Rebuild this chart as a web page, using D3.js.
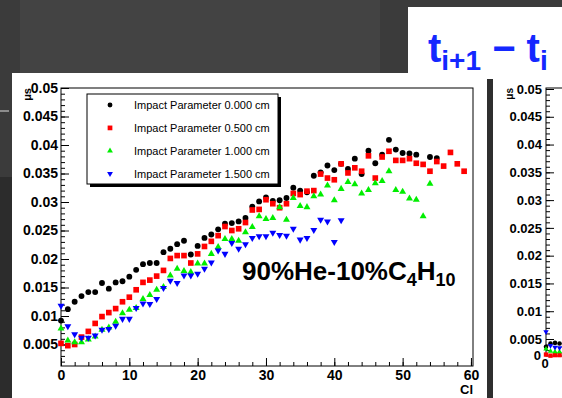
<!DOCTYPE html>
<html>
<head>
<meta charset="utf-8">
<script src="https://cdn.jsdelivr.net/npm/d3@7"></script>
<style>
  body { margin: 0; background: #3a3a3a; overflow: hidden; }
  svg { display: block; font-family: "Liberation Sans", Arial, Helvetica, sans-serif; }
</style>
</head>
<body>
<script>
// mean time difference per cluster, 90%He-10%C4H10 (index = cluster number Cl)
const ip0000 = [0.0092,0.0112,0.0125,0.0135,0.0142,0.0142,0.0158,0.0148,0.0159,0.0161,
  0.0169,0.0181,0.0191,0.0193,0.0193,0.0212,0.0218,0.0226,0.0232,0.0208,
  0.0223,0.0237,0.0243,0.0252,0.0262,0.0263,0.0266,0.0272,0.0292,0.0301,
  0.0308,0.0302,0.0303,0.0307,0.0325,0.0320,0.0317,0.0346,0.0352,0.0364,
  0.0356,0.0367,0.0358,0.0376,0.0349,0.0390,0.0368,0.0383,0.0409,0.0392,
  0.0386,0.0385,0.0383,null,0.0379,0.0377];
const ip0500 = [0.0052,0.0048,0.0050,0.0063,0.0073,0.0087,0.0099,0.0106,0.0113,0.0125,
  0.0133,0.0146,0.0159,0.0163,0.0170,0.0180,0.0201,0.0206,0.0206,0.0193,
  0.0209,0.0222,0.0231,0.0241,0.0257,0.0250,0.0253,0.0264,0.0286,0.0287,
  0.0304,0.0297,0.0290,0.0297,0.0315,0.0313,0.0319,0.0320,0.0349,0.0342,
  0.0339,0.0367,0.0351,0.0360,0.0354,0.0381,0.0342,0.0379,0.0389,0.0373,
  0.0373,0.0376,0.0368,0.0366,0.0354,0.0371,0.0363,0.0387,0.0367,0.0354];
const ip1000 = [0.0078,0.0057,0.0054,0.0054,0.0059,0.0064,0.0076,0.0080,0.0090,0.0105,
  0.0111,0.0114,0.0130,0.0137,0.0146,0.0151,0.0171,0.0183,0.0179,0.0177,
  0.0192,0.0192,0.0209,0.0221,0.0235,0.0235,0.0232,0.0247,0.0256,0.0275,
  0.0270,0.0272,0.0291,0.0269,0.0307,0.0293,0.0291,0.0310,0.0313,0.0329,
  0.0303,0.0323,0.0335,0.0331,0.0315,0.0321,0.0333,0.0337,0.0354,0.0321,
  0.0318,0.0306,0.0304,0.0275,0.0332];
const ip1500 = [0.0118,0.0082,0.0068,0.0062,0.0062,0.0066,0.0076,0.0077,0.0083,0.0095,
  0.0095,0.0114,0.0122,0.0121,0.0130,0.0149,0.0162,0.0158,0.0171,0.0171,
  0.0174,0.0183,0.0194,0.0215,0.0209,0.0228,0.0218,0.0226,0.0237,0.0240,
  0.0240,0.0246,0.0242,0.0241,0.0253,0.0234,0.0237,0.0251,0.0269,0.0266,
  0.0230,0.0268];

// the neighbouring (cut off) plot on the right
const next0000 = [0.0036,0.0042,0.0043,0.0042,0.0041];
const next0500 = [0.0022,0.0020,0.0021,0.0021,0.0022];
const next1000 = [0.0032,0.0028,0.0027,0.0027,0.0027];
const next1500 = [0.0063,0.0038,0.0035,0.0034,0.0033];

const legendLabels = ["Impact Parameter 0.000 cm","Impact Parameter 0.500 cm",
  "Impact Parameter 1.000 cm","Impact Parameter 1.500 cm"];
const yTicks = [0.005,0.01,0.015,0.02,0.025,0.03,0.035,0.04,0.045,0.05];
const yTickLabels = ["0.005","0.01","0.015","0.02","0.025","0.03","0.035","0.04","0.045","0.05"];
const xTicks = [0,10,20,30,40,50,60];
const xTickLabels = ["0","10","20","30","40","50","60"];

const series = [
  {vals: ip0000, next: next0000, color: "#000000", shape: d3.symbolCircle, size: 27, rot: 0},
  {vals: ip0500, next: next0500, color: "#ff0000", shape: d3.symbolSquare, size: 32, rot: 0},
  {vals: ip1000, next: next1000, color: "#00ee00", shape: d3.symbolTriangle, size: 21, rot: 0},
  {vals: ip1500, next: next1500, color: "#0000ff", shape: d3.symbolTriangle, size: 21, rot: 180}
];

const w = 562, h = 398;
const svg = d3.select("body").append("svg").attr("width", w).attr("height", h);

// slide background
svg.append("rect").attr("width", w).attr("height", h).attr("fill", "#3b3b3b");
svg.append("rect").attr("x", 20).attr("y", 0).attr("width", 360).attr("height", 73).attr("fill", "#434343");
svg.append("rect").attr("x", 0).attr("y", 177).attr("width", 12).attr("height", 221).attr("fill", "#2c2c2c");
svg.append("rect").attr("x", 0).attr("y", 110).attr("width", 9).attr("height", 2).attr("fill", "#8c8c8c");
svg.append("rect").attr("x", 12).attr("y", 73).attr("width", 475).attr("height", 325).attr("fill", "#fff");
svg.append("rect").attr("x", 408).attr("y", 7).attr("width", 154).attr("height", 72).attr("fill", "#fff");
svg.append("rect").attr("x", 487).attr("y", 79).attr("width", 6).attr("height", 319).attr("fill", "#2e2e2e");
svg.append("rect").attr("x", 493).attr("y", 79).attr("width", 69).attr("height", 319).attr("fill", "#fff");

// title
const title = svg.append("text").attr("x", 428).attr("y", 62)
  .attr("fill", "#1428ff").attr("font-weight", "bold").attr("font-size", 40);
title.append("tspan").text("t");
title.append("tspan").attr("font-size", 28).attr("dy", 8).text("i+1");
title.append("tspan").attr("dy", -8).text(" \u2212 t");
title.append("tspan").attr("font-size", 28).attr("dy", 8).text("i");

// main plot
const x = d3.scaleLinear().domain([0, 60.3]).range([61, 473]);
const y = d3.scaleLinear().domain([0.00123, 0.05]).range([366, 88]);

svg.append("rect").attr("x", 61).attr("y", 88).attr("width", 412).attr("height", 278)
  .attr("fill", "none").attr("stroke", "#000").attr("stroke-width", 1);

function styleAxis(g, size) {
  g.select(".domain").remove();
  g.selectAll("line").attr("stroke", "#000");
  g.selectAll("text").attr("font-size", size).attr("font-weight", "bold").attr("fill", "#000");
}

svg.append("g").attr("transform", "translate(61,0)")
  .call(d3.axisLeft(y).tickValues(d3.range(2, 51).map(i => i / 1000)).tickSize(-4).tickFormat(""))
  .call(g => styleAxis(g, 14));
svg.append("g").attr("transform", "translate(61,0)")
  .call(d3.axisLeft(y).tickValues(yTicks).tickSize(-8).tickPadding(3)
    .tickFormat((d, i) => yTickLabels[i]))
  .call(g => styleAxis(g, 14));
svg.append("g").attr("transform", "translate(0,366)")
  .call(d3.axisBottom(x).tickValues(d3.range(0, 61, 2)).tickSize(-4).tickFormat(""))
  .call(g => styleAxis(g, 14));
svg.append("g").attr("transform", "translate(0,366)")
  .call(d3.axisBottom(x).tickValues(xTicks).tickSize(-8).tickPadding(4)
    .tickFormat((d, i) => xTickLabels[i]))
  .call(g => styleAxis(g, 14));

svg.append("text").attr("transform", "translate(31,88) rotate(-90)")
  .attr("text-anchor", "end").attr("font-size", 11).attr("font-weight", "bold").text("\u03bcs");
svg.append("text").attr("x", 473).attr("y", 394).attr("text-anchor", "end")
  .attr("font-size", 13).attr("font-weight", "bold").text("Cl");

series.forEach(s => {
  svg.append("g").selectAll("path")
    .data(s.vals.map((v, i) => ({cl: i, v: v})).filter(d => d.v !== null))
    .enter().append("path")
    .attr("d", d3.symbol().type(s.shape).size(s.size))
    .attr("transform", d => "translate(" + x(d.cl) + "," + y(d.v) + ") rotate(" + s.rot + ")")
    .attr("fill", s.color);
});

// legend
svg.append("rect").attr("x", 90).attr("y", 97).attr("width", 191).attr("height", 90).attr("fill", "#000");
svg.append("rect").attr("x", 87).attr("y", 94).attr("width", 191).attr("height", 90)
  .attr("fill", "#fff").attr("stroke", "#000").attr("stroke-width", 1);
series.forEach((s, i) => {
  const ly = 105 + i * 22.9;
  svg.append("path").attr("d", d3.symbol().type(s.shape).size(s.size * 0.7))
    .attr("transform", "translate(110," + ly + ") rotate(" + s.rot + ")").attr("fill", s.color);
  svg.append("text").attr("x", 134).attr("y", ly).attr("dy", "0.35em")
    .attr("font-size", 11).text(legendLabels[i]);
});

// gas mixture label
const gas = svg.append("text").attr("x", 242).attr("y", 280)
  .attr("font-size", 26).attr("font-weight", "bold");
gas.append("tspan").text("90%He-10%C");
gas.append("tspan").attr("font-size", 18).attr("dy", 6).text("4");
gas.append("tspan").attr("dy", -6).text("H");
gas.append("tspan").attr("font-size", 18).attr("dy", 6).text("10");

// second plot, cut off at the right edge
const x2 = d3.scaleLinear().domain([0, 4]).range([546, 564]);
const y2 = d3.scaleLinear().domain([0.005, 0.05]).range([339, 89]);
const clip = svg.append("clipPath").attr("id", "cut");
clip.append("rect").attr("x", 493).attr("y", 79).attr("width", 69).attr("height", 319);
const p2 = svg.append("g").attr("clip-path", "url(#cut)");
p2.append("rect").attr("x", 546).attr("y", 88).attr("width", 100).attr("height", 268)
  .attr("fill", "none").attr("stroke", "#000");
p2.append("g").attr("transform", "translate(546,0)")
  .call(d3.axisLeft(y2).tickValues(d3.range(3, 51).map(i => i / 1000)).tickSize(-4).tickFormat(""))
  .call(g => styleAxis(g, 13));
p2.append("g").attr("transform", "translate(546,0)")
  .call(d3.axisLeft(y2).tickValues(yTicks).tickSize(-8).tickPadding(4)
    .tickFormat((d, i) => yTickLabels[i]))
  .call(g => styleAxis(g, 13));
p2.append("text").attr("x", 541).attr("y", 355).attr("dy", "0.35em").attr("text-anchor", "end")
  .attr("font-size", 13).attr("font-weight", "bold").text("0");
p2.append("text").attr("x", 545).attr("y", 363).attr("dy", "0.35em").attr("text-anchor", "middle")
  .attr("font-size", 13).attr("font-weight", "bold").text("0");
p2.append("text").attr("transform", "translate(513,88) rotate(-90)")
  .attr("text-anchor", "end").attr("font-size", 10).attr("font-weight", "bold").text("\u03bcs");
series.forEach(s => {
  p2.append("g").selectAll("path")
    .data(s.next.map((v, i) => ({cl: i, v: v})))
    .enter().append("path")
    .attr("d", d3.symbol().type(s.shape).size(s.size * 0.6))
    .attr("transform", d => "translate(" + x2(d.cl) + "," + y2(d.v) + ") rotate(" + s.rot + ")")
    .attr("fill", s.color);
});
</script>
</body>
</html>
